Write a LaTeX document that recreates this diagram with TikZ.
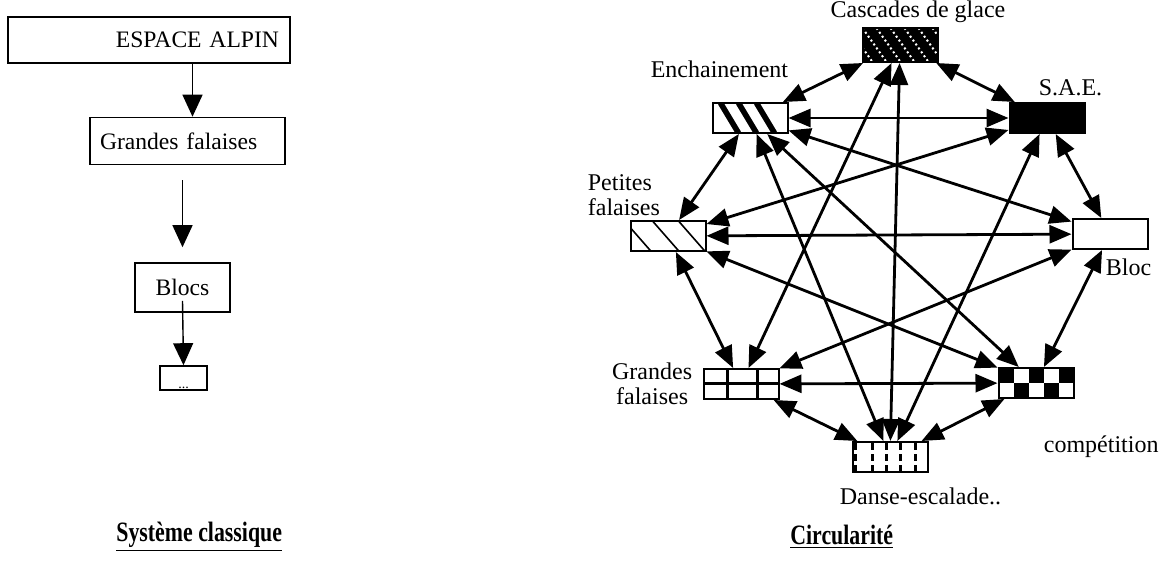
\documentclass[tikz,border=0pt]{standalone}
\usepackage{fontspec}
\setmainfont{Liberation Serif}
\usetikzlibrary{arrows.meta,positioning}

\begin{document}
\begin{tikzpicture}[
  x=0.5pt, y=-0.5pt,
  lbox/.style={rectangle, draw, line width=0.8pt, inner sep=0pt,
               font=\fontsize{11.8}{13}\selectfont},
  cbox/.style={rectangle, draw, line width=1pt, minimum width=37.5pt,
               minimum height=15pt, inner sep=0pt},
  lab/.style={font=\fontsize{12}{12.5}\selectfont, inner sep=0pt},
  arr/.style={-{Triangle[length=11pt,width=10pt]}, line width=0.7pt},
  link/.style={{Triangle[length=11pt,width=9pt]}-{Triangle[length=11pt,width=9pt]},
               line width=1.4pt},
  title/.style={font=\fontsize{14}{16}\selectfont\bfseries, inner sep=0pt},
]
  \useasboundingbox (0,0) rectangle (1164,562);

  % Classic system
  \node[lbox, minimum width=141pt, minimum height=23pt, text width=130pt,
        align=right] (espace) at (149,40) {ESPACE ALPIN};
  \node[lbox, minimum width=97.5pt, minimum height=23.5pt, text width=87.5pt,
        align=left] (grandes) at (187.5,141) {Grandes falaises};
  \node[lbox, minimum width=47.5pt, minimum height=24.5pt] (blocs) at (182.5,287.5) {Blocs};
  \node[lbox, minimum width=23.5pt, minimum height=12pt] (etc) at (183.5,378)
    {\raisebox{-5pt}[0pt][0pt]{\scriptsize...}};

  \draw[arr] ([xshift=2.5pt]espace.south -| grandes.north) -- ([xshift=2.5pt]grandes.north);
  \draw[arr, shorten <=7.5pt, shorten >=7.5pt] (grandes.south -| blocs.north) -- (blocs.north);
  \draw[arr] ([yshift=6pt]blocs.south) -- (etc.north);

  % Circularity boxes
  \node[cbox, fill=black, minimum height=17pt, path picture={
      \foreach \k in {-3,...,6}
        \draw[white, line width=1pt, dash pattern=on 1pt off 1.4pt]
          ([xshift=\k*7pt]path picture bounding box.north west) -- ++(12pt,-17pt);
    }] (cascades) at (900,45) {};
  \node[cbox, path picture={
      \foreach \k in {4,13,22}
        \draw[line width=2.8pt]
          ([xshift=\k pt]path picture bounding box.north west) -- ++(9pt,-15pt);
    }] (enchainement) at (750,118) {};
  \node[cbox, fill=black] (sae) at (1047,118) {};
  \node[cbox, path picture={
      \foreach \k in {-3,11,24}
        \draw[line width=0.8pt]
          ([xshift=\k pt]path picture bounding box.north west) -- ++(14pt,-16pt);
    }] (petites) at (668,236) {};
  \node[cbox] (bloc) at (1110,234) {};
  \node[cbox, path picture={
      \draw[line width=1.5pt]
        ([xshift=12pt]path picture bounding box.north west) -- ([xshift=12pt]path picture bounding box.south west)
        ([xshift=27pt]path picture bounding box.north west) -- ([xshift=27pt]path picture bounding box.south west)
        ([yshift=-7pt]path picture bounding box.north west) -- ([yshift=-7pt]path picture bounding box.north east);
    }] (grandesf) at (741,384) {};
  \node[cbox, path picture={
      \foreach \c in {0,...,4}
        \foreach \r in {0,1}{
          \pgfmathparse{int(mod(\c+\r,2))}
          \ifnum\pgfmathresult=0
            \fill ([xshift=\c*7.5pt, yshift=-\r*7.5pt]path picture bounding box.north west)
              rectangle ++(7.5pt,-7.5pt);
          \fi
        }
    }] (competition) at (1036,383) {};
  \node[cbox, path picture={
      \foreach \k in {1.5,10,17,24,31.5}
        \draw[line width=1.5pt, dash pattern=on 3.5pt off 2pt]
          ([xshift=\k pt, yshift=-0.5pt]path picture bounding box.north west) -- ++(0,-15pt);
    }] (danse) at (890,457) {};

  % Labels
  \node[lab, above=2pt of cascades, xshift=9pt] (lcascades) {Cascades de glace};
  \node[lab, anchor=south east] (lenchainement) at ([yshift=12pt]enchainement.north east) {Enchainement};
  \node[lab, anchor=south west] (lsae) at ([xshift=15pt, yshift=3pt]sae.north west) {S.A.E.};
  \node[lab, anchor=south west, align=left] (lpetites) at ([xshift=-21pt, yshift=2pt]petites.north west)
    {Petites\\falaises};
  \node[lab, anchor=north west] (lbloc) at ([xshift=17pt, yshift=-4pt]bloc.south west) {Bloc};
  \node[lab, anchor=east, align=center] (lgrandesf) at ([xshift=-5pt]grandesf.west) {Grandes\\falaises};
  \node[lab, anchor=north west] (lcompetition) at ([xshift=23pt, yshift=-18pt]competition.south west)
    {compétition};
  \node[lab, anchor=north west] (ldanse) at ([xshift=-6pt, yshift=-7pt]danse.south west)
    {Danse-escalade..};

  % Ring
  \draw[link] (cascades) -- (enchainement);
  \draw[link] (cascades) -- (sae);
  \draw[link] (enchainement) -- (petites);
  \draw[link] (sae) -- (bloc);
  \draw[link] (petites) -- (grandesf);
  \draw[link] (bloc) -- (competition);
  \draw[link] (grandesf) -- (danse);
  \draw[link] (competition) -- (danse);

  % Chords
  \draw[link] (enchainement) -- (sae);
  \draw[link] (petites) -- (bloc);
  \draw[link] (grandesf) -- (competition);
  \draw[link] (cascades) -- (danse);
  \draw[link] (cascades) -- (grandesf);
  \draw[link] (bloc) -- (grandesf);
  \draw[link] (enchainement) -- (bloc);
  \draw[link] (petites) -- (sae);
  \draw[link] (petites) -- (competition);
  \draw[link] (enchainement) -- (competition);
  \draw[link] (enchainement) -- (danse);
  \draw[link] (sae) -- (danse);

  % Titles
  \node[title, anchor=west] (tclassique) at (116,537) {\scalebox{0.78}[1]{\underline{Système classique}}};
  \node[title, anchor=west] (tcircularite) at (790,537) {\scalebox{0.78}[1]{\underline{Circularité}}};
\end{tikzpicture}
\end{document}
